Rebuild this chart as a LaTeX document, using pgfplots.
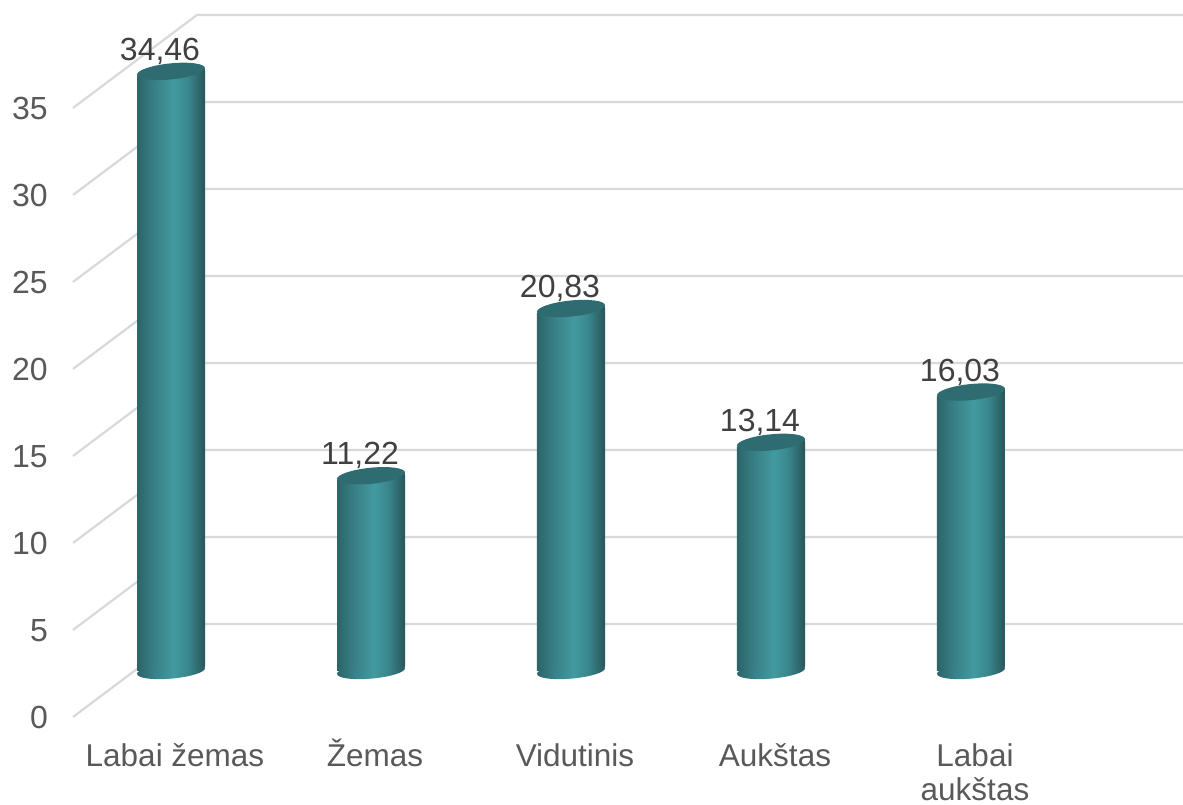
\documentclass[border=0pt]{standalone}
\usepackage{pgfplots}
\pgfplotsset{compat=1.18}
\usepackage{fontspec}
\setmainfont{Liberation Sans}
\definecolor{gridc}{HTML}{D9D9D9}
\definecolor{axt}{HTML}{595959}
\definecolor{valt}{HTML}{404040}
\definecolor{capc}{HTML}{2E6C72}
\definecolor{edgeR}{HTML}{275659}
\definecolor{cylA}{HTML}{2C6468}
\definecolor{cylB}{HTML}{377F85}
\definecolor{cylC}{HTML}{429AA0}
\definecolor{cylD}{HTML}{3A888E}
\pgfdeclarehorizontalshading{cyl}{100bp}{
  color(0bp)=(cylA);
  color(25bp)=(cylA);
  color(37bp)=(cylB);
  color(52bp)=(cylC);
  color(62bp)=(cylD);
  color(75bp)=(edgeR);
  color(100bp)=(edgeR)}
\pgfdeclareplotmark{botcap}{%
  \pgfsetfillcolor{white}%
  \pgfpathmoveto{\pgfpoint{35.5pt}{4.5pt}}%
  \pgfpathlineto{\pgfpoint{35.5pt}{-1pt}}%
  \pgfpathlineto{\pgfpoint{10pt}{-1pt}}%
  \pgfpathclose\pgfusepathqfill
  \pgfpathellipse{\pgfpointorigin}{\pgfpoint{34pt}{3pt}}{\pgfpoint{-0.7pt}{7.6pt}}%
  \pgfshadepath{cyl}{0}%
  \pgfusepath{discard}%
}
\pgfdeclareplotmark{topcap}{%
  \pgfsetfillcolor{white}%
  \pgfpathmoveto{\pgfpoint{-35.5pt}{-4.5pt}}%
  \pgfpathlineto{\pgfpoint{-35.5pt}{1pt}}%
  \pgfpathlineto{\pgfpoint{-10pt}{1pt}}%
  \pgfpathclose\pgfusepathqfill
  \pgfsetfillcolor{edgeR}%
  \pgfpathmoveto{\pgfpoint{34pt}{3.5pt}}%
  \pgfpathlineto{\pgfpoint{34pt}{-1pt}}%
  \pgfpathlineto{\pgfpoint{26pt}{-1pt}}%
  \pgfpathlineto{\pgfpoint{26pt}{3.5pt}}%
  \pgfpathclose\pgfusepathqfill
  \pgfsetfillcolor{capc}%
  \pgfpathellipse{\pgfpointorigin}{\pgfpoint{34pt}{3.4pt}}{\pgfpoint{-0.7pt}{8pt}}%
  \pgfusepathqfill
}
\begin{document}
\begin{tikzpicture}[x=1pt,y=1pt]
\useasboundingbox (0,0) rectangle (1183,805);
% walls, floor lines and tick labels (front plane)
\begin{axis}[
  at={(73pt,88pt)},anchor=south west,scale only axis,
  width=1110pt,height=713.4pt,
  xmin=-0.51,xmax=5.04,ymin=0,ymax=41,
  clip=false,
  axis line style={draw=none},
  axis x line=bottom,axis y line=left,
  major tick length=0pt,
  tick style={draw=none},
  ytick={0,5,10,15,20,25,30,35},
  xtick={0,1,2,3,4},
  xticklabels={\vphantom{Ž}Labai žemas,\vphantom{Ž}Žemas,\vphantom{Ž}Vidutinis,\vphantom{Ž}Aukštas,\vphantom{Ž}Labai\\aukštas},
  /pgf/number format/assume math mode=true,
  tick label style={text=axt},
  yticklabel style={font=\fontsize{32}{36}\selectfont,inner sep=0pt,xshift=-25pt,yshift=-0.5pt},
  xticklabel style={font=\fontsize{31.5}{33.5}\selectfont,inner sep=0pt,yshift=-22pt,align=center,anchor=north},
]
\addplot[gridc,line width=2.2pt] coordinates {(-0.51,0) (0.11,5.345) (5.04,5.345)};
\addplot[gridc,line width=2.2pt] coordinates {(-0.51,5) (0.11,10.345) (5.04,10.345)};
\addplot[gridc,line width=2.2pt] coordinates {(-0.51,10) (0.11,15.345) (5.04,15.345)};
\addplot[gridc,line width=2.2pt] coordinates {(-0.51,15) (0.11,20.345) (5.04,20.345)};
\addplot[gridc,line width=2.2pt] coordinates {(-0.51,20) (0.11,25.345) (5.04,25.345)};
\addplot[gridc,line width=2.2pt] coordinates {(-0.51,25) (0.11,30.345) (5.04,30.345)};
\addplot[gridc,line width=2.2pt] coordinates {(-0.51,30) (0.11,35.345) (5.04,35.345)};
\addplot[gridc,line width=2.2pt] coordinates {(-0.51,35) (0.11,40.345) (5.04,40.345)};
\end{axis}
% cylinders
\begin{axis}[
  at={(71pt,134pt)},anchor=south west,scale only axis,
  width=1100pt,height=661.2pt,
  xmin=-0.5,xmax=5,ymin=0,ymax=38,
  clip=false,
  hide axis,
]
\addplot[ybar,bar width=68pt,bar shift=0pt,draw=none,shade,shading=cyl] coordinates {(0,34.46)};
\addplot[ybar,bar width=68pt,bar shift=0pt,draw=none,shade,shading=cyl] coordinates {(1,11.22)};
\addplot[ybar,bar width=68pt,bar shift=0pt,draw=none,shade,shading=cyl] coordinates {(2,20.83)};
\addplot[ybar,bar width=68pt,bar shift=0pt,draw=none,shade,shading=cyl] coordinates {(3,13.14)};
\addplot[ybar,bar width=68pt,bar shift=0pt,draw=none,shade,shading=cyl] coordinates {(4,16.03)};
\addplot[only marks,mark=botcap] coordinates {(0,0) (1,0) (2,0) (3,0) (4,0)};
\addplot[only marks,mark=topcap,
  nodes near coords={\pgfmathprintnumber[fixed,fixed zerofill,precision=2,use comma,assume math mode=true]{\pgfplotspointmeta}},
  every node near coord/.style={anchor=base,inner sep=0pt,xshift=-11pt,yshift=11pt,
    font=\fontsize{32}{36}\selectfont,text=valt},
] coordinates {(0,34.46) (1,11.22) (2,20.83) (3,13.14) (4,16.03)};
\end{axis}
\end{tikzpicture}
\end{document}
